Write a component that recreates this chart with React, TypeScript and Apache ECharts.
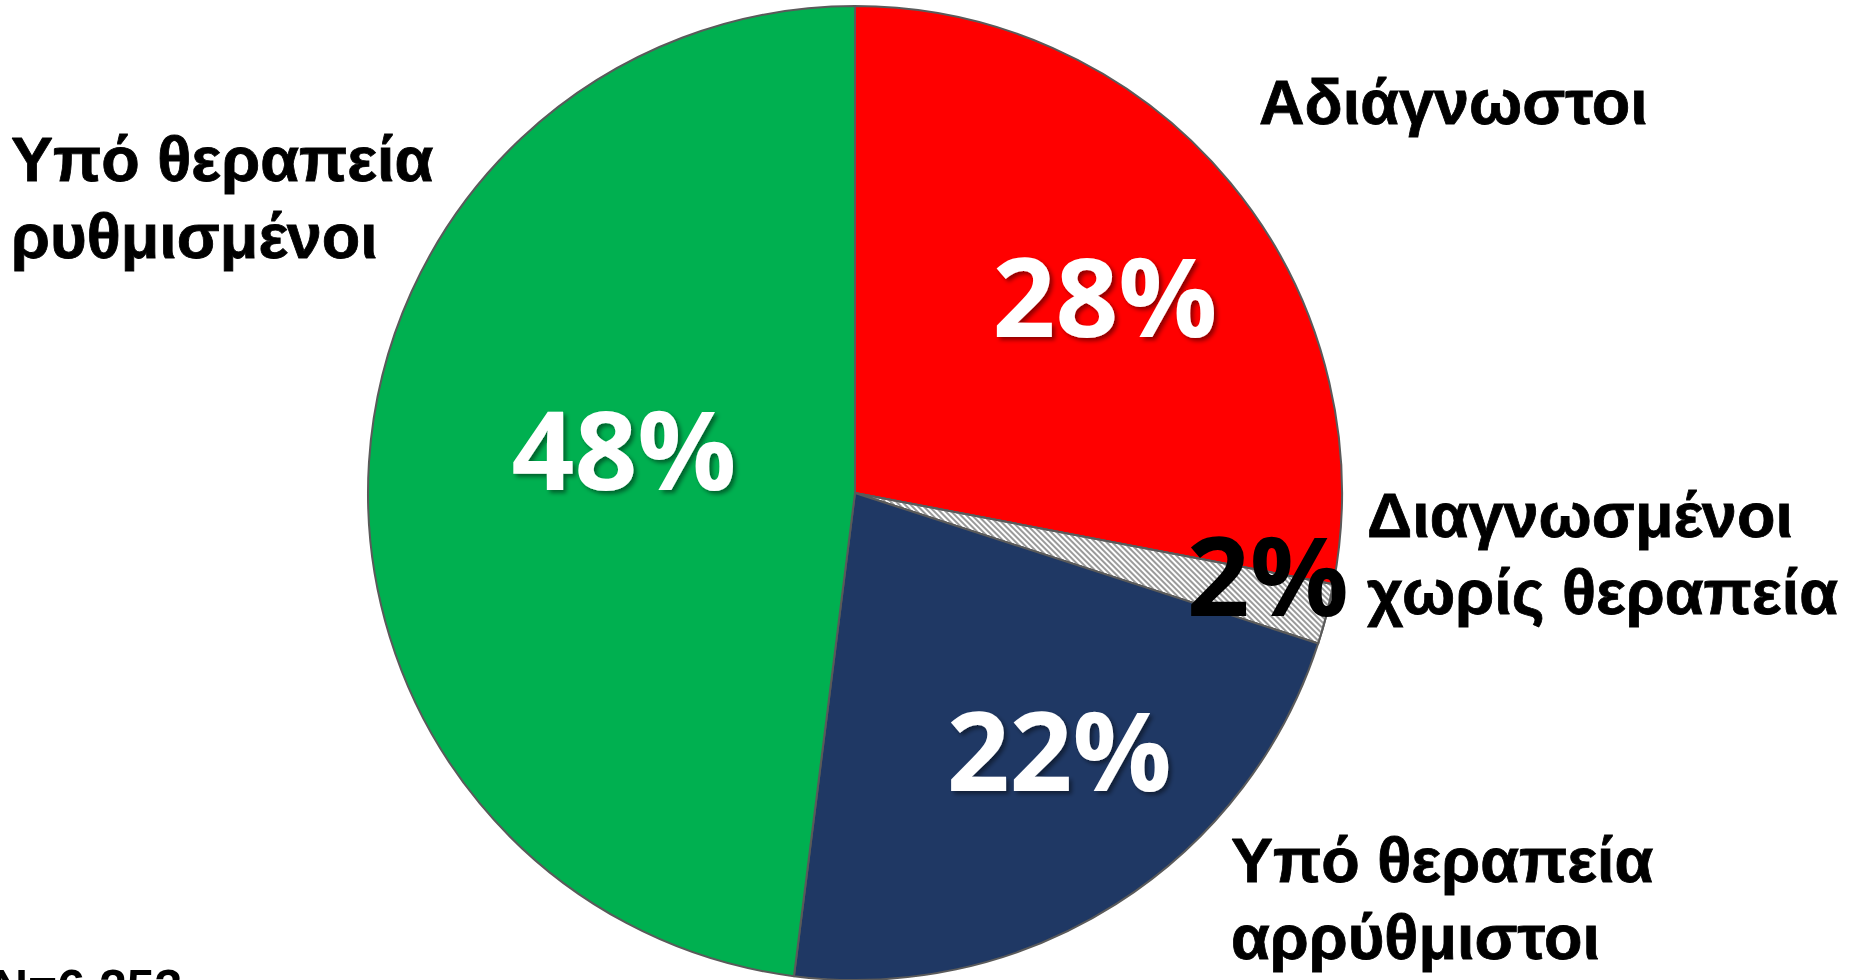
import React, { useEffect, useRef } from "react";
import * as echarts from "echarts";

// Data
const categories = [
  "Αδιάγνωστοι",
  "Διαγνωσμένοι\nχωρίς θεραπεία",
  "Υπό θεραπεία\nαρρύθμιστοι",
  "Υπό θεραπεία\nρυθμισμένοι",
];
const values = [28, 2, 22, 48];
const sampleNote = "N=6.253";

// Styles / layout
const sliceColors = ["#FF0000", "#FFFFFF", "#1F3864", "#00B050"];
const pctColors = ["#FFFFFF", "#000000", "#FFFFFF", "#FFFFFF"];
// offsets of the percentage labels from their default inside position
const pctOffsets = [
  [60, -42],
  [174, 19],
  [72, 47],
  [15, -31],
];
// category label anchor (left x, vertical centre y)
const catPos = [
  [1259, 102],
  [1367, 553],
  [1231, 898],
  [11, 197],
];

export default function App() {
  const ref = useRef<HTMLDivElement>(null);
  useEffect(() => {
    if (!ref.current) return;
    const chart = echarts.init(ref.current, undefined, { renderer: "svg" });
    const data = values.map((v, i) => ({
      name: categories[i],
      value: v,
      itemStyle:
        i === 1
          ? {
              color: "#FFFFFF",
              decal: {
                symbol: "rect",
                symbolSize: 1,
                color: "#9A9A9A",
                backgroundColor: "#FFFFFF",
                dashArrayX: [1, 0],
                dashArrayY: [2, 2],
                rotation: Math.PI / 4,
              },
            }
          : { color: sliceColors[i] },
      label: {
        color: pctColors[i],
        textShadowColor: i === 1 ? "transparent" : "rgba(0,0,0,0.45)",
        textShadowBlur: i === 1 ? 0 : 4,
        textShadowOffsetX: i === 1 ? 0 : 3,
        textShadowOffsetY: i === 1 ? 0 : 3,
      },
    }));
    chart.setOption({
      animation: false,
      backgroundColor: "#FFFFFF",
      series: [
        {
          type: "pie",
          center: [855, 493],
          radius: 487,
          startAngle: 90,
          clockwise: true,
          silent: true,
          data,
          itemStyle: { borderColor: "#5A5A5A", borderWidth: 2 },
          label: {
            show: true,
            position: "inside",
            formatter: "{c}%",
            fontFamily: "Open Sans",
            fontWeight: "bold",
            fontSize: 110,
          },
          labelLine: { show: false },
          labelLayout: (p: any) => ({
            dx: pctOffsets[p.dataIndex][0],
            dy: pctOffsets[p.dataIndex][1],
          }),
          emphasis: { disabled: true },
        },
      ],
      graphic: [
        ...categories.map((c, i) => ({
          type: "text",
          x: catPos[i][0],
          y: catPos[i][1],
          silent: true,
          style: {
            text: c,
            fill: "#000000",
            stroke: "#000000",
            lineWidth: 0.8,
            font: "bold 63px 'Liberation Sans', Arial, sans-serif",
            lineHeight: 77,
            align: "left",
            verticalAlign: "middle",
          },
        })),
        {
          type: "text",
          x: -8,
          y: 988,
          silent: true,
          style: {
            text: sampleNote,
            fill: "#000000",
            font: "bold 50px 'Liberation Sans', Arial, sans-serif",
            align: "left",
            verticalAlign: "middle",
          },
        },
      ],
    });
    return () => chart.dispose();
  }, []);
  return (
    <div
      ref={ref}
      style={{ position: "fixed", left: 0, top: 0, width: 1862, height: 980 }}
    />
  );
}
